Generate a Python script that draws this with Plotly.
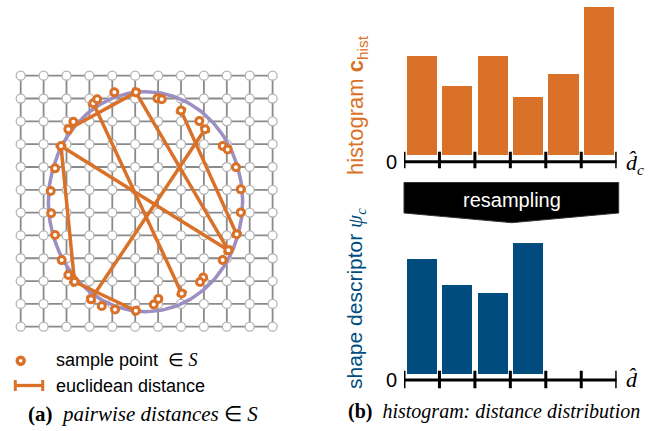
import numpy as np
import plotly.graph_objects as go

W, H = 660, 431
ORANGE = "#da7128"
BLUE = "#004c7e"
PURPLE = "#9d8fc2"
SANS = "Liberation Sans, Arial, sans-serif"
SERIF = "Liberation Serif, Times New Roman, serif"

# ---------------- data ----------------
grid_size = 12
ellipse_center = (5.45, 5.52)
ellipse_radii = (4.24, 4.82)

sample_x = [4.09, 5.03, 5.97, 6.16, 7.00, 7.80, 8.05, 8.82, 9.04, 9.40, 9.61, 9.61,
            9.43, 9.07, 8.82, 7.97, 7.83, 7.03, 6.01, 5.81, 5.03, 4.12, 3.54, 3.07,
            2.35, 2.08, 1.79, 1.50, 1.33, 1.31, 1.50, 1.76, 2.08, 2.30, 3.17, 3.34]
sample_y = [0.73, 0.73, 0.99, 1.03, 1.53, 1.99, 2.35, 3.08, 3.23, 4.01, 4.98, 5.99,
            6.95, 7.65, 8.08, 8.84, 9.04, 9.54, 9.78, 10.03, 10.30, 10.24, 10.09, 9.80,
            9.03, 8.73, 8.08, 6.98, 6.03, 5.05, 4.06, 3.08, 2.35, 2.02, 1.21, 1.03]
# pairwise distances: index pairs into the sample lists
distance_pairs = [(32, 1), (34, 17), (1, 13), (31, 13), (31, 24), (24, 20), (23, 6), (4, 12)]

n_bins = 6
hist_values = [6.0, 4.2, 6.0, 3.5, 4.9, 9.0]
descriptor_values = [0.263, 0.203, 0.185, 0.300]


def fx(px):
    return px / W


def fy(py):
    return 1 - py / H


fig = go.Figure()

# ---------------- left panel: grid ----------------
gx, gy = [], []
for k in range(grid_size):
    gx += [0, grid_size - 1, None, k, k, None]
    gy += [k, k, None, 0, grid_size - 1, None]
fig.add_trace(go.Scatter(x=gx, y=gy, mode="lines", line=dict(color="#8a8a8a", width=1.8),
                         hoverinfo="skip", xaxis="x", yaxis="y"))
nodes_x = [i for j in range(grid_size) for i in range(grid_size)]
nodes_y = [j for j in range(grid_size) for i in range(grid_size)]
fig.add_trace(go.Scatter(x=nodes_x, y=nodes_y, mode="markers",
                         marker=dict(size=9, color="white", line=dict(color="#b4b4b4", width=1.3)),
                         hoverinfo="skip", xaxis="x", yaxis="y"))

# ellipse (the shape the samples lie on)
t = np.linspace(0, 2 * np.pi, 241)
ex_ = (ellipse_center[0] + ellipse_radii[0] * np.cos(t)).tolist()
ey_ = (ellipse_center[1] + ellipse_radii[1] * np.sin(t)).tolist()
fig.add_trace(go.Scatter(x=ex_, y=ey_, mode="lines", line=dict(color=PURPLE, width=3.5),
                         hoverinfo="skip", xaxis="x", yaxis="y"))

# distance segments with end caps
lx, ly, cx, cy = [], [], [], []
cap = 0.24
for a, b in distance_pairs:
    x0, y0, x1, y1 = sample_x[a], sample_y[a], sample_x[b], sample_y[b]
    lx += [x0, x1, None]
    ly += [y0, y1, None]
    d = float(np.hypot(x1 - x0, y1 - y0))
    px_, py_ = -(y1 - y0) / d * cap, (x1 - x0) / d * cap
    for (ex, ey) in [(x0, y0), (x1, y1)]:
        cx += [ex - px_, ex + px_, None]
        cy += [ey - py_, ey + py_, None]
fig.add_trace(go.Scatter(x=lx, y=ly, mode="lines", line=dict(color=ORANGE, width=3.5),
                         hoverinfo="skip", xaxis="x", yaxis="y"))
fig.add_trace(go.Scatter(x=cx, y=cy, mode="lines", line=dict(color=ORANGE, width=3),
                         hoverinfo="skip", xaxis="x", yaxis="y"))
fig.add_trace(go.Scatter(x=sample_x, y=sample_y, mode="markers",
                         marker=dict(size=7, color="white", line=dict(color=ORANGE, width=3)),
                         hoverinfo="skip", xaxis="x", yaxis="y"))

# ---------------- right panel: histograms ----------------
centers = [k + 0.5 for k in range(n_bins)]
fig.add_trace(go.Bar(x=centers[:len(hist_values)], y=hist_values, width=0.85,
                     marker=dict(color=ORANGE, line=dict(width=0)),
                     hoverinfo="skip", xaxis="x2", yaxis="y2"))
fig.add_trace(go.Bar(x=centers[:len(descriptor_values)], y=descriptor_values, width=0.85,
                     marker=dict(color=BLUE, line=dict(width=0)),
                     hoverinfo="skip", xaxis="x3", yaxis="y3"))

shapes = []
for (xr, line_py, tick_top, tick_bot) in [("x2", 161.7, 151.7, 168.3), ("x3", 380.0, 370.7, 388.3)]:
    shapes.append(dict(type="line", xref=xr, yref="paper", x0=0, x1=n_bins,
                       y0=fy(line_py), y1=fy(line_py), line=dict(color="black", width=3)))
    for k in range(n_bins + 1):
        shapes.append(dict(type="line", xref=xr, yref="paper", x0=k, x1=k,
                           y0=fy(tick_top), y1=fy(tick_bot), line=dict(color="black", width=3)))

# resampling arrow
arrow = [(404, 182.5), (618.7, 182.5), (618.7, 213), (511.7, 222.7), (404, 213)]
path = "M " + " L ".join(f"{fx(a):.5f},{fy(b):.5f}" for a, b in arrow) + " Z"
shapes.append(dict(type="path", xref="paper", yref="paper", path=path,
                   fillcolor="black", line=dict(color="#333333", width=1)))

# legend symbols
shapes.append(dict(type="line", xref="paper", yref="paper", x0=fx(14), x1=fx(44),
                   y0=fy(385.5), y1=fy(385.5), line=dict(color=ORANGE, width=3.3)))
for xp in (15.3, 42.7):
    shapes.append(dict(type="line", xref="paper", yref="paper", x0=fx(xp), x1=fx(xp),
                       y0=fy(380), y1=fy(391), line=dict(color=ORANGE, width=3)))
shapes.append(dict(type="circle", xref="paper", yref="paper",
                   x0=fx(17.2), x1=fx(24.2), y0=fy(357.2), y1=fy(364.2),
                   fillcolor="white", line=dict(color=ORANGE, width=3.4)))

annotations = [
    dict(x=fx(391.5), y=fy(161.5), text="0", font=dict(family=SANS, size=20, color="black")),
    dict(x=fx(391.5), y=fy(379.5), text="0", font=dict(family=SANS, size=20, color="black")),
    dict(x=fx(624), y=fy(164), xanchor="left", text="<i>d\u0302</i><sub><i>c</i></sub>",
         font=dict(family=SERIF, size=22, color="black")),
    dict(x=fx(624), y=fy(379), xanchor="left", text="<i>d\u0302</i>",
         font=dict(family=SERIF, size=22, color="black")),
    dict(x=fx(511.7), y=fy(200), text="resampling", font=dict(family=SANS, size=20, color="white")),
    dict(x=fx(357), y=fy(105), textangle=-90, text="histogram <b>c</b><sub>hist</sub>",
         font=dict(family=SANS, size=22, color=ORANGE)),
    dict(x=fx(356), y=fy(299), textangle=-90,
         text="shape descriptor <span style='font-family:Liberation Serif'><i>\u03c8</i><sub><i>c</i></sub></span>",
         font=dict(family=SANS, size=21, color=BLUE)),
    dict(x=fx(54), y=fy(360), xanchor="left",
         text="sample point  <span style='font-family:Liberation Serif'>\u2208 <i>S</i></span>",
         font=dict(family=SANS, size=18, color="black")),
    dict(x=fx(54), y=fy(386), xanchor="left", text="euclidean distance",
         font=dict(family=SANS, size=18, color="black")),
    dict(x=fx(142.5), y=fy(413.5), text="<b>(a)</b>  <i>pairwise distances</i> \u2208 <i>S</i>",
         font=dict(family=SERIF, size=21, color="black")),
    dict(x=fx(494), y=fy(411), text="<b>(b)</b>  <i>histogram: distance distribution</i>",
         font=dict(family=SERIF, size=20, color="black")),
]
for an in annotations:
    an.setdefault("xref", "paper")
    an.setdefault("yref", "paper")
    an.setdefault("showarrow", False)
    an.setdefault("xanchor", "center")
    an.setdefault("yanchor", "middle")

hidden = dict(visible=False, fixedrange=True)

# pixel mapping for the grid: px = 20.7 + 22.9*i ; py = 75.7 + 22.82*j
gx0, gdx, gy0, gdy = 20.7, 22.9, 75.7, 22.82
left_dom_px = (0, 300)
left_dom_py = (60, 340)

# top histogram: 0 at py=155, 16.5 px per unit ; bottom: 0 at py=374.3, 439 px per unit
top_dom_py = (0, 175)
bot_dom_py = (228, 396)

fig.update_layout(
    width=W, height=H, margin=dict(l=0, r=0, t=0, b=0, pad=0),
    paper_bgcolor="white", plot_bgcolor="rgba(0,0,0,0)", showlegend=False,
    bargap=0,
    xaxis=dict(hidden, domain=[fx(left_dom_px[0]), fx(left_dom_px[1])],
               range=[(left_dom_px[0] - gx0) / gdx, (left_dom_px[1] - gx0) / gdx]),
    yaxis=dict(hidden, domain=[fy(left_dom_py[1]), fy(left_dom_py[0])],
               range=[(left_dom_py[1] - gy0) / gdy, (left_dom_py[0] - gy0) / gdy]),
    xaxis2=dict(hidden, domain=[fx(404), fx(616.7)], range=[0, n_bins], anchor="y2"),
    yaxis2=dict(hidden, domain=[fy(top_dom_py[1]), fy(top_dom_py[0])],
                range=[(155 - top_dom_py[1]) / 16.5, (155 - top_dom_py[0]) / 16.5], anchor="x2"),
    xaxis3=dict(hidden, domain=[fx(404), fx(616.7)], range=[0, n_bins], anchor="y3"),
    yaxis3=dict(hidden, domain=[fy(bot_dom_py[1]), fy(bot_dom_py[0])],
                range=[(374.3 - bot_dom_py[1]) / 439, (374.3 - bot_dom_py[0]) / 439], anchor="x3"),
    shapes=shapes,
    annotations=annotations,
)

fig.write_html("out.html", config={"displayModeBar": False, "staticPlot": True},
               post_script="document.body.style.margin='0px';")
